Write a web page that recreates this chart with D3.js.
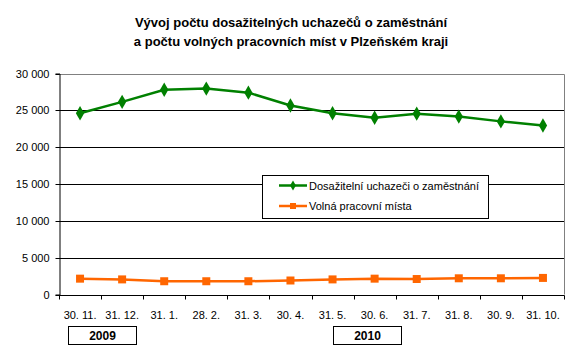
<!DOCTYPE html>
<html><head><meta charset="utf-8">
<script src="https://cdn.jsdelivr.net/npm/d3@7"></script>
<style>body{margin:0;background:#fff}svg{display:block;font-family:"Liberation Sans",Arial,sans-serif}</style>
</head><body><svg id="c" width="582" height="356"></svg>
<script>
const categories = ["30. 11.","31. 12.","31. 1.","28. 2.","31. 3.","30. 4.","31. 5.","30. 6.","31. 7.","31. 8.","30. 9.","31. 10."];
const uchazeci = [24600,26150,27800,27950,27400,25650,24600,24000,24550,24150,23500,22950];
const mista = [2150,2050,1800,1800,1800,1900,2050,2150,2100,2200,2200,2250];
const yTicks = [0,5000,10000,15000,20000,25000,30000];
const seriesNames = ["Dosažitelní uchazeči o zaměstnání","Volná pracovní místa"];
const years = ["2009","2010"];
const yearStart = ["30. 11.","31. 5."];
const titleLines = ["Vývoj počtu dosažitelných uchazečů o zaměstnání","a počtu volných pracovních míst v Plzeňském kraji"];

const svg = d3.select("#c");
const L=59, R=564, T=73.5, B=294.5;
const x = d3.scaleBand().domain(categories).range([L,R]);
const y = d3.scaleLinear().domain([0,30000]).range([B,T]);
const green="#008000", orange="#FF6600";

// title
svg.selectAll("text.title").data(titleLines).join("text")
  .attr("x",291).attr("y",(d,i)=>27+i*19).attr("text-anchor","middle")
  .attr("font-size",13).attr("font-weight","bold").text(d=>d);

// grid
svg.append("g").selectAll("line").data(yTicks.filter(v=>v>0&&v<30000)).join("line")
  .attr("x1",L).attr("x2",R).attr("y1",d=>Math.round(y(d))+0.5).attr("y2",d=>Math.round(y(d))+0.5)
  .attr("stroke","#000");
// border top/right gray
svg.append("path").attr("d",`M${L},${Math.round(T)+0.5}H${R+0.5}V${B}`).attr("fill","none").attr("stroke","#808080");

// y axis
const ya = svg.append("g").attr("transform",`translate(${L+0.5},0)`)
  .call(d3.axisLeft(y).tickValues(yTicks).tickSize(4).tickPadding(6)
    .tickFormat(d=>d3.format(",")(d).replace(/,/g," ")));
ya.select(".domain").attr("stroke","#000");
ya.selectAll(".tick line").attr("stroke","#000");
ya.selectAll("text").attr("font-size",11).attr("font-family","Liberation Sans, Arial, sans-serif").attr("fill","#000");
ya.selectAll(".tick").attr("transform",d=>`translate(0,${Math.round(y(d))+0.5})`);

// x axis
const xa = svg.append("g").attr("transform",`translate(0,${Math.round(B)+0.5})`);
xa.append("line").attr("x1",L).attr("x2",R+0.5).attr("stroke","#000");
const bounds = d3.range(categories.length+1).map(i=>L+i*x.bandwidth());
xa.selectAll("line.t").data(bounds).join("line").attr("class","t")
  .attr("x1",d=>Math.round(d)+0.5).attr("x2",d=>Math.round(d)+0.5).attr("y1",0).attr("y2",4).attr("stroke","#000");
xa.selectAll("text").data(categories).join("text")
  .attr("x",d=>x(d)+x.bandwidth()/2).attr("y",23).attr("text-anchor","middle")
  .attr("font-size",11).text(d=>d);

// year boxes
const yb = svg.append("g");
const boxOff=[9,21];
years.forEach((yr,i)=>{
  const x0 = Math.round(x(yearStart[i])+boxOff[i]);
  yb.append("rect").attr("x",x0+0.5).attr("y",326.5).attr("width",68).attr("height",18)
    .attr("fill","#fff").attr("stroke","#000");
  yb.append("text").attr("x",x0+34.5).attr("y",340).attr("text-anchor","middle")
    .attr("font-size",12).attr("font-weight","bold").attr("font-family","Liberation Sans Narrow, Arial Narrow, Liberation Sans, sans-serif").text(yr);
});

// lines
const cx = d=>x(d)+x.bandwidth()/2;
const line = d3.line().x((v,i)=>cx(categories[i])).y(v=>y(v));
svg.append("path").datum(mista).attr("d",line).attr("fill","none").attr("stroke",orange).attr("stroke-width",2.5);
svg.append("path").datum(uchazeci).attr("d",line).attr("fill","none").attr("stroke",green).attr("stroke-width",2.5);
const sq = d3.symbol(d3.symbolSquare,64), dia=d3.symbol(d3.symbolDiamond,60);
svg.selectAll("path.sq").data(mista).join("path").attr("class","sq")
  .attr("transform",(v,i)=>`translate(${cx(categories[i])},${y(v)})`).attr("d",sq).attr("fill",orange);
svg.selectAll("path.di").data(uchazeci).join("path").attr("class","di")
  .attr("transform",(v,i)=>`translate(${cx(categories[i])},${y(v)})`).attr("d",dia).attr("fill",green);

// legend
const lg = svg.append("g");
lg.append("rect").attr("x",262.5).attr("y",175.5).attr("width",226).attr("height",43).attr("fill","#fff").attr("stroke","#000");
const ly=[185.5,206];
lg.append("line").attr("x1",279).attr("x2",307).attr("y1",ly[0]).attr("y2",ly[0]).attr("stroke",green).attr("stroke-width",2.5);
lg.append("path").attr("transform",`translate(293,${ly[0]})`).attr("d",d3.symbol(d3.symbolDiamond,30)).attr("fill",green);
lg.append("line").attr("x1",279).attr("x2",307).attr("y1",ly[1]).attr("y2",ly[1]).attr("stroke",orange).attr("stroke-width",2.5);
lg.append("path").attr("transform",`translate(293,${ly[1]})`).attr("d",d3.symbol(d3.symbolSquare,36)).attr("fill",orange);
lg.selectAll("text").data(seriesNames).join("text").attr("x",309).attr("y",(d,i)=>ly[i]+4)
  .attr("font-size",11).text(d=>d);
</script></body></html>
